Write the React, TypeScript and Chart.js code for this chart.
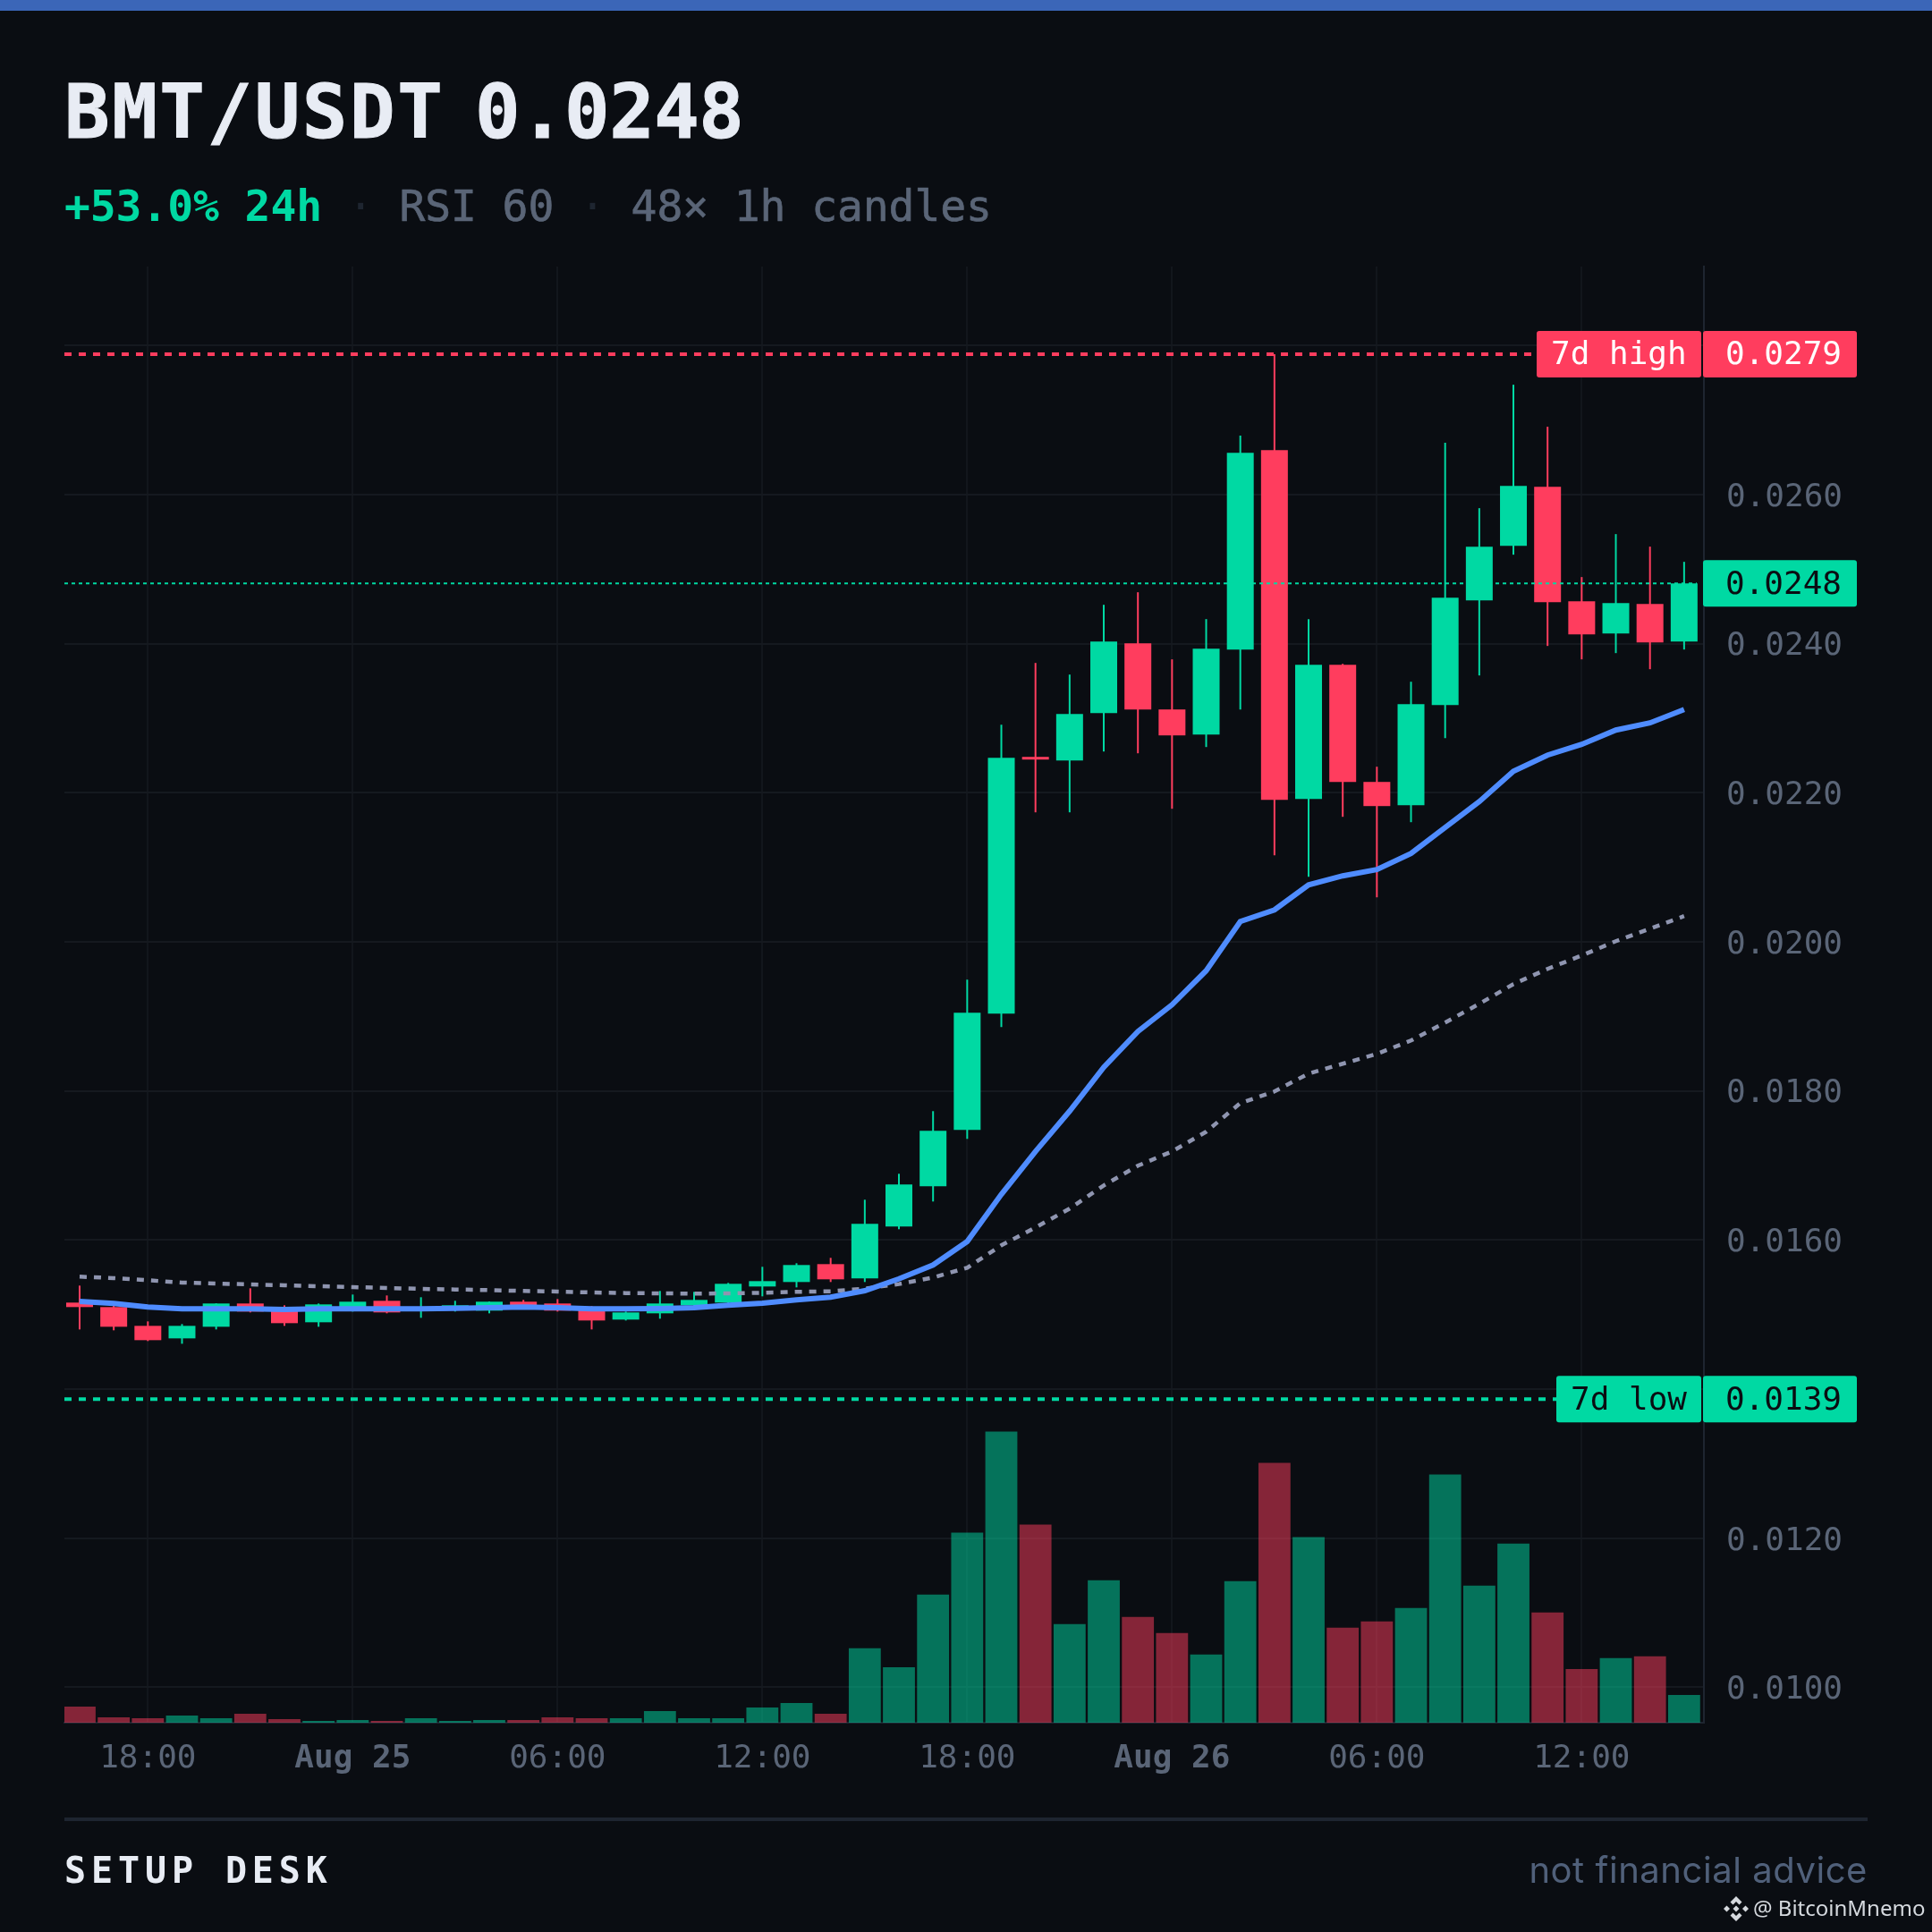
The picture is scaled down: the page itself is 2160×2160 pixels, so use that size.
import React, { useEffect, useRef } from "react";
import { Chart, registerables } from "chart.js";

Chart.register(...registerables);

const BG = "#0a0d12";
const GREEN = "#00d9a3";
const RED = "#ff3d5e";
const GREEN_VOL = "rgba(0,217,163,0.5)";
const RED_VOL = "rgba(255,61,94,0.5)";
const SLATE = "#5a6577";
const LINE = "#1e2530";
const MONO = '"DejaVu Sans Mono"';

const opens = [
  0.01516, 0.0151, 0.014848, 0.01468, 0.014836, 0.015148, 0.0151, 0.014896, 0.015052, 0.015184,
  0.015052, 0.015064, 0.015052, 0.015172, 0.015148, 0.0151, 0.014932, 0.015016, 0.015124, 0.01516,
  0.015376, 0.015436, 0.015676, 0.015484, 0.01618, 0.01672, 0.017476, 0.019036, 0.02248, 0.022432,
  0.023068, 0.024004, 0.023116, 0.02278, 0.02392, 0.026596, 0.021916, 0.023716, 0.022144, 0.021832,
  0.023176, 0.02458, 0.025312, 0.026104, 0.024568, 0.024136, 0.024532, 0.024028,
];
const closes = [
  0.0151, 0.014836, 0.014656, 0.014848, 0.015148, 0.01504, 0.014884, 0.015136, 0.015172, 0.015028,
  0.0151, 0.015124, 0.015172, 0.0151, 0.015052, 0.01492, 0.015028, 0.015148, 0.015196, 0.015412,
  0.015448, 0.015664, 0.015472, 0.016216, 0.016744, 0.017464, 0.019048, 0.022468, 0.022444, 0.023056,
  0.024028, 0.023116, 0.022768, 0.023932, 0.02656, 0.021904, 0.023716, 0.022144, 0.02182, 0.023188,
  0.024616, 0.0253, 0.026116, 0.024556, 0.024124, 0.024544, 0.024016, 0.024808,
];
const highs = [
  0.015388, 0.015124, 0.014908, 0.014872, 0.01515, 0.015352, 0.015124, 0.015148, 0.015268, 0.015256,
  0.015232, 0.015184, 0.015175, 0.015196, 0.015208, 0.015112, 0.01504, 0.015316, 0.015304, 0.015424,
  0.01564, 0.015688, 0.01576, 0.01654, 0.016888, 0.017728, 0.019492, 0.022912, 0.02374, 0.023584,
  0.02452, 0.024688, 0.023788, 0.024328, 0.026788, 0.02788, 0.024328, 0.023728, 0.022348, 0.023488,
  0.026692, 0.025816, 0.027472, 0.026908, 0.024892, 0.025468, 0.0253, 0.025096,
];
const lows = [
  0.0148, 0.014788, 0.014644, 0.014608, 0.0148, 0.015028, 0.014848, 0.014836, 0.01504, 0.015016,
  0.014956, 0.01504, 0.015016, 0.015076, 0.01504, 0.0148, 0.01492, 0.014944, 0.015112, 0.015148,
  0.015244, 0.015364, 0.015436, 0.015436, 0.016144, 0.016516, 0.017356, 0.018856, 0.021736, 0.021736,
  0.022552, 0.022528, 0.021784, 0.022612, 0.023116, 0.02116, 0.020872, 0.021676, 0.020596, 0.021604,
  0.022732, 0.023572, 0.025192, 0.023968, 0.023788, 0.023872, 0.023656, 0.02392,
];
const volumes = [
  18, 6, 5, 8, 5, 10, 4, 2, 3, 2, 5, 2, 3, 3, 6, 5, 5, 13, 5, 5, 17, 22, 10, 83,
  62, 143, 212, 325, 221, 110, 159, 118, 100, 76, 158, 290, 207, 106, 113, 128, 277, 153, 200, 123, 60, 72, 74, 31,
];
const emaFast = [
  0.015176, 0.015148, 0.0151, 0.015076, 0.015076, 0.015076, 0.015068, 0.015076, 0.015076, 0.015076,
  0.015076, 0.015084, 0.015092, 0.0151, 0.015092, 0.015076, 0.015076, 0.01508, 0.015092, 0.015124,
  0.015152, 0.015196, 0.015232, 0.01532, 0.015478, 0.015664, 0.01598, 0.016612, 0.017188, 0.017728,
  0.018316, 0.018796, 0.019156, 0.019612, 0.020272, 0.020428, 0.020764, 0.020884, 0.020968, 0.021184,
  0.021532, 0.02188, 0.022288, 0.022504, 0.022648, 0.02284, 0.022936, 0.023116,
];
const emaSlow = [
  0.015508, 0.015488, 0.01546, 0.015428, 0.015416, 0.015404, 0.015392, 0.01538, 0.015368, 0.015356,
  0.015344, 0.015336, 0.015328, 0.015316, 0.015308, 0.015296, 0.015288, 0.015284, 0.01528, 0.015284,
  0.015292, 0.015304, 0.015312, 0.015348, 0.015408, 0.015496, 0.015628, 0.015928, 0.016168, 0.01642,
  0.016732, 0.016996, 0.017188, 0.017452, 0.017836, 0.017992, 0.018232, 0.018364, 0.018496, 0.018676,
  0.018916, 0.019168, 0.019432, 0.019636, 0.019816, 0.020008, 0.020176, 0.020344,
];
const timeTickIndex = [2, 8, 14, 20, 26, 32, 38, 44];
const timeTickLabels = ["18:00", "Aug 25", "06:00", "12:00", "18:00", "Aug 26", "06:00", "12:00"];
const priceTicks = [0.01, 0.012, 0.014, 0.016, 0.018, 0.02, 0.022, 0.024, 0.026, 0.028];
const hiddenPriceTicks = [0.014, 0.028];
const levelHigh = 0.02788;
const levelLow = 0.013864;
const levelLast = closes[closes.length - 1];

const up = closes.map((c, i) => c >= opens[i]);
const candleColors = up.map((u) => (u ? GREEN : RED));
const volumeColors = up.map((u) => (u ? GREEN_VOL : RED_VOL));

function badge(ctx: any, x0: number, x1: number, yc: number, fill: string, ink: string, text: string, textX: number) {
  ctx.save();
  ctx.fillStyle = fill;
  ctx.beginPath();
  ctx.roundRect(x0, yc - 26, x1 - x0, 52, 3);
  ctx.fill();
  ctx.fillStyle = ink;
  ctx.font = `36px ${MONO}`;
  ctx.textAlign = "left";
  ctx.textBaseline = "middle";
  ctx.fillText(text, textX, yc + 2);
  ctx.restore();
}

const levelsPlugin = {
  id: "levels",
  afterDatasetsDraw(chart: any) {
    const { ctx, scales, chartArea } = chart;
    const left = chartArea.left;
    const right = chartArea.right;
    const hy = scales.y.getPixelForValue(levelHigh);
    const ly = scales.y.getPixelForValue(levelLow);
    const cy = scales.y.getPixelForValue(levelLast);
    const dash = (y: number, x1: number, color: string, width: number, pattern: number[]) => {
      ctx.save();
      ctx.strokeStyle = color;
      ctx.lineWidth = width;
      ctx.setLineDash(pattern);
      ctx.beginPath();
      ctx.moveTo(left, y);
      ctx.lineTo(x1, y);
      ctx.stroke();
      ctx.restore();
    };
    dash(cy, right - 8, GREEN, 2, [4, 4]);
    dash(hy, right - 189, RED, 4, [8, 8]);
    dash(ly, right - 165, GREEN, 4, [8, 8]);
    badge(ctx, right - 187, right - 3, hy, RED, "#ffffff", "7d high", right - 171);
    badge(ctx, right - 1, right + 171, hy, RED, "#ffffff", "0.0279", right + 24);
    badge(ctx, right - 165, right - 3, ly, GREEN, BG, "7d low", right - 149);
    badge(ctx, right - 1, right + 171, ly, GREEN, BG, "0.0139", right + 24);
    badge(ctx, right - 1, right + 171, cy, GREEN, BG, "0.0248", right + 24);
  },
};

const abs = (style: any) => ({ position: "absolute", whiteSpace: "pre", margin: 0, ...style });

export default function App() {
  const ref = useRef<HTMLCanvasElement | null>(null);
  useEffect(() => {
    document.body.style.margin = "0";
    document.body.style.background = BG;
    const idx = opens.map((_, i) => i);
    const chart = new Chart(ref.current as any, {
      type: "bar",
      plugins: [levelsPlugin],
      data: {
        datasets: [
          {
            type: "line",
            data: idx.map((i) => ({ x: i, y: emaFast[i] })),
            borderColor: "#4f8cff",
            borderWidth: 6,
            pointRadius: 0,
            tension: 0,
            order: 1,
          },
          {
            type: "line",
            data: idx.map((i) => ({ x: i, y: emaSlow[i] })),
            borderColor: "#8f95b0",
            borderWidth: 4.5,
            borderDash: [8, 8],
            pointRadius: 0,
            tension: 0,
            order: 2,
          },
          {
            data: idx.map((i) => ({ x: i, y: [Math.min(opens[i], closes[i]), Math.max(opens[i], closes[i])] })),
            backgroundColor: candleColors,
            barThickness: 30,
            grouped: false,
            inflateAmount: 0,
            order: 3,
          },
          {
            data: idx.map((i) => ({ x: i, y: [lows[i], highs[i]] })),
            backgroundColor: candleColors,
            barThickness: 2,
            grouped: false,
            inflateAmount: 0,
            order: 4,
          },
          {
            data: idx.map((i) => ({ x: i, y: volumes[i] })),
            backgroundColor: volumeColors,
            barThickness: 35.8,
            grouped: false,
            inflateAmount: 0,
            yAxisID: "yVol",
            order: 5,
          },
        ],
      } as any,
      options: {
        responsive: false,
        animation: false,
        devicePixelRatio: 1,
        layout: { padding: { left: 72, top: 298, right: 0, bottom: 0 } },
        plugins: { legend: { display: false }, tooltip: { enabled: false }, title: { display: false } },
        scales: {
          x: {
            type: "linear",
            offset: false,
            min: -0.445,
            max: 47.58,
            afterBuildTicks: (s: any) => {
              s.ticks = timeTickIndex.map((value) => ({ value }));
            },
            afterFit: (s: any) => {
              s.height = 234;
            },
            grid: { offset: false, color: "#12161c", lineWidth: 2, drawTicks: false },
            border: { display: true, color: LINE, width: 2 },
            ticks: {
              autoSkip: false,
              maxRotation: 0,
              padding: 19,
              color: SLATE,
              font: (c: any) => ({
                family: MONO,
                size: 36,
                weight: c.index === 1 || c.index === 5 ? "bold" : "normal",
              }),
              callback: (_v: any, i: number) => timeTickLabels[i],
            },
          },
          y: {
            position: "right",
            min: 0.009525,
            max: 0.029057,
            afterBuildTicks: (s: any) => {
              s.ticks = priceTicks.map((value) => ({ value }));
            },
            afterFit: (s: any) => {
              s.width = 255;
            },
            grid: { color: "#15191f", lineWidth: 2, drawTicks: false },
            border: { display: true, color: LINE, width: 2 },
            ticks: {
              padding: 25,
              color: SLATE,
              autoSkip: false,
              // a blank first line with this line height nudges the number onto its gridline
              font: { family: MONO, size: 36, lineHeight: "7px" },
              callback: (v: any) => (hiddenPriceTicks.includes(v) ? "" : ["", Number(v).toFixed(4)]),
            },
          },
          yVol: {
            display: false,
            min: 0,
            max: Math.max(...volumes) * 5,
          },
        },
      } as any,
    });
    return () => chart.destroy();
  }, []);

  return (
    <div style={{ position: "absolute", left: 0, top: 0, width: 2160, height: 2160, background: BG, overflow: "hidden" }}>
      <canvas ref={ref} width={2160} height={2160} style={{ position: "absolute", left: 0, top: 0, width: 2160, height: 2160 }} />
      <div style={abs({ left: 0, top: 0, width: 2160, height: 12, background: "#3b66b8" })} />
      <div style={abs({ left: 72, top: 75, font: `bold 84px/100px ${MONO}`, color: "#e8ecf4", WebkitTextStroke: "1px #e8ecf4" })}>
        <span style={{ letterSpacing: 2.6 }}>BMT/USDT</span>
        <span style={{ letterSpacing: -17 }}> </span>
        <span style={{ letterSpacing: -0.5 }}>0.0248</span>
      </div>
      <div style={abs({ left: 72, top: 200, font: `48px/60px ${MONO}`, letterSpacing: -0.1, color: SLATE, WebkitTextStroke: "0.7px #5a6577" })}>
        <span style={{ color: GREEN, fontWeight: "bold", WebkitTextStroke: "0" }}>+53.0% 24h</span>
        <span style={{ color: "#1e2530", WebkitTextStroke: "0" }}> · </span>
        RSI 60
        <span style={{ color: "#1e2530", WebkitTextStroke: "0" }}> · </span>
        48× 1h candles
      </div>
      <div style={abs({ left: 72, top: 2032, width: 2016, height: 4, background: LINE })} />
      <div style={abs({ left: 72, top: 2066, font: `bold 40px/50px ${MONO}`, letterSpacing: 5.9, color: "#e8ecf4" })}>SETUP DESK</div>
      <div style={abs({ right: 72, top: 2066, font: `40px/50px Inter`, letterSpacing: 0.55, color: "#50607a" })}>not financial advice</div>
      <svg style={abs({ left: 1927, top: 2120 })} width="28" height="28" viewBox="0 0 28 28">
        <g fill="#d5d9de">
          <polygon points="14,0 20.5,6.5 17.5,9.5 14,6 10.5,9.5 7.5,6.5" />
          <polygon points="14,28 20.5,21.5 17.5,18.5 14,22 10.5,18.5 7.5,21.5" />
          <polygon points="3.5,10.5 7,14 3.5,17.5 0,14" />
          <polygon points="24.5,10.5 28,14 24.5,17.5 21,14" />
          <polygon points="14,10.5 17.5,14 14,17.5 10.5,14" />
        </g>
      </svg>
      <div style={abs({ left: 1960, top: 2116, font: `24px/34px "Noto Sans"`, color: "#d5d9de" })}>@ BitcoinMnemo</div>
    </div>
  );
}
